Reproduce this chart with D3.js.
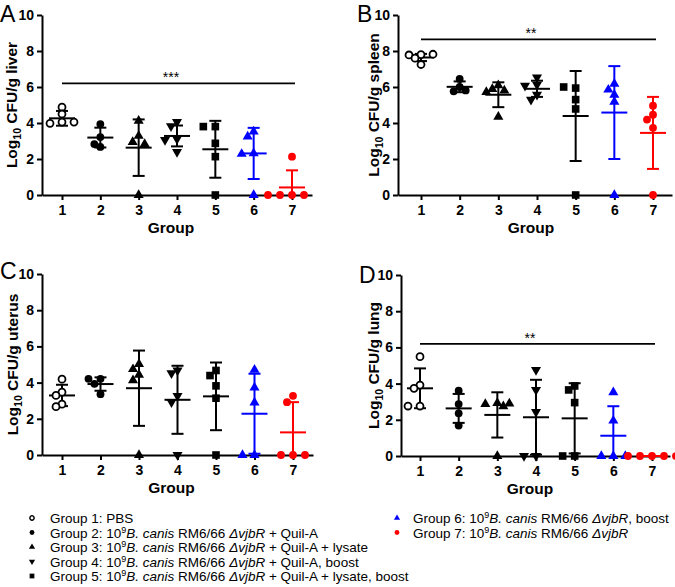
<!DOCTYPE html>
<html><head><meta charset="utf-8">
<script src="https://cdn.jsdelivr.net/npm/d3@7"></script>
<style>
body{margin:0;background:#fff}
svg{display:block}
text{font-family:"Liberation Sans",Arial,sans-serif}
</style>
</head><body>
<svg id="chart" width="675" height="587"></svg>
<script>
// ---------- DATA ----------
const groups = [1, 2, 3, 4, 5, 6, 7];
const yTicks = [0, 2, 4, 6, 8, 10];

const liverPoints = [
  [4.88, 4.5, 4.05, 3.98, 4.05],
  [3.94, 3.22, 2.67, 2.83],
  [4.12, 3.28, 2.94, 2.83, 0],
  [4.06, 3.83, 3.11, 3.06, 2.39],
  [3.8, 3.8, 2.87, 2.13, 0],
  [3.52, 3.24, 2.31, 2.28, 0],
  [2.13, 0, 0, 0, 0]
];
const liverMean = [4.26, 3.19, 2.63, 3.28, 2.54, 2.31, 0.42];
const liverSD = [0.41, 0.55, 1.57, 0.58, 1.58, 1.42, 0.95];

const spleenPoints = [
  [7.8, 7.78, 7.82, 7.6, 7.25],
  [6.45, 6.0, 5.76, 5.81],
  [6.09, 5.89, 5.8, 5.72, 4.34],
  [6.53, 6.13, 6.07, 5.57, 5.3],
  [5.94, 6.0, 5.3, 4.78, 0],
  [6.18, 5.85, 5.57, 5.17, 0],
  [4.96, 4.46, 4.19, 3.73, 0]
];
const spleenMean = [7.64, 6.01, 5.57, 5.9, 4.39, 4.58, 3.45];
const spleenSD = [0.2, 0.3, 0.69, 0.45, 2.5, 2.58, 2.0];

const uterusPoints = [
  [4.19, 3.47, 3.29, 2.81, 2.67],
  [4.21, 4.21, 3.93, 3.36],
  [5.02, 4.74, 4.43, 4.12, 0],
  [4.67, 4.52, 3.27, 2.92, 0],
  [4.67, 4.39, 3.82, 3.14, 0],
  [4.71, 3.73, 2.9, 0, 0],
  [3.27, 2.92, 0, 0, 0]
];
const uterusMean = [3.29, 3.92, 3.69, 3.05, 3.24, 2.28, 1.25];
const uterusSD = [0.59, 0.37, 2.08, 1.88, 1.87, 2.21, 1.67];

const lungPoints = [
  [5.49, 3.92, 3.74, 2.76, 2.76],
  [3.61, 2.87, 2.36, 1.68],
  [2.93, 2.87, 2.9, 2.75, 0],
  [4.75, 3.65, 2.43, 0, 0],
  [3.87, 3.65, 2.95, 0, 0],
  [3.52, 1.95, 0, 0, 0],
  [0, 0, 0, 0, 0]
];
const lungMean = [3.74, 2.63, 2.27, 2.14, 2.08, 1.12, 0];
const lungSD = [1.1, 0.8, 1.25, 2.07, 1.94, 1.63, 0];

const sigValues = [6.2, 8.65, null, 6.19];
const sigLabels = ["***", "**", "", "**"];
const organs = ["liver", "spleen", "uterus", "lung"];
const panelLetters = ["A", "B", "C", "D"];

const legendPrefix = ["Group 1: ", "Group 2: ", "Group 3: ", "Group 4: ", "Group 5: ", "Group 6: ", "Group 7: "];
const legendSuffix = ["PBS", " + Quil-A", " + Quil-A + lysate", " + Quil-A, boost", " + Quil-A + lysate, boost", ", boost", ""];

// ---------- STYLE / LAYOUT ----------
const groupColor = ["#000", "#000", "#000", "#000", "#000", "#0000ff", "#ff0000"];
const groupShape = ["openCircle", "circle", "triUp", "triDown", "square", "triUp", "circle"];

const layout = [
  {left: 42, right: 312, g1: 62, g7: 292, top: 15, bottom: 195, ylabX: 17, letterX: 0, letterY: 22},
  {left: 398, right: 672, g1: 421, g7: 653, top: 15, bottom: 195, ylabX: 379, letterX: 357, letterY: 22},
  {left: 42, right: 313, g1: 62, g7: 293, top: 274, bottom: 455, ylabX: 18, letterX: 0, letterY: 279},
  {left: 401, right: 670, g1: 420, g7: 652, top: 275, bottom: 456, ylabX: 379, letterX: 359, letterY: 283}
];
const panelPoints = [liverPoints, spleenPoints, uterusPoints, lungPoints];
const panelMeans = [liverMean, spleenMean, uterusMean, lungMean];
const panelSDs = [liverSD, spleenSD, uterusSD, lungSD];

const svg = d3.select("#chart");

function drawMarker(g, shape, color, x, y, scale) {
  const s = scale || 1;
  let d;
  if (shape === "openCircle") d = d3.symbol(d3.symbolCircle, 38 * s * s)();
  else if (shape === "circle") d = d3.symbol(d3.symbolCircle, 48 * s * s)();
  else if (shape === "square") d = d3.symbol(d3.symbolSquare, 58 * s * s)();
  else d = d3.symbol(d3.symbolTriangle, 44 * s * s)();
  const p = g.append("path").attr("d", d)
    .attr("transform", `translate(${x},${y})` + (shape === "triDown" ? " rotate(180)" : ""));
  if (shape === "openCircle") {
    p.attr("fill", "#fff").attr("stroke", color).attr("stroke-width", 1.8 * Math.max(s, 0.8));
  } else {
    p.attr("fill", color);
  }
}

// simple beeswarm offsets in pixel space
function swarm(ys, step, minDist) {
  const placed = [];
  return ys.map(y => {
    const cands = [0];
    for (let k = 1; k < 10; k++) { cands.push(-k * step, k * step); }
    for (const dx of cands) {
      if (placed.every(p => Math.hypot(p.dx - dx, p.y - y) >= minDist)) {
        placed.push({dx, y});
        return dx;
      }
    }
    return 0;
  });
}

layout.forEach((L, pi) => {
  const g = svg.append("g");
  const x = d3.scaleLinear().domain([1, 7]).range([L.g1, L.g7]);
  const xa = d3.scaleLinear().domain([x.invert(L.left), x.invert(L.right)]).range([L.left, L.right]);
  const y = d3.scaleLinear().domain([0, 10]).range([L.bottom, L.top]);

  // axes
  const ax = g.append("g").attr("transform", `translate(0,${L.bottom})`)
    .call(d3.axisBottom(xa).tickValues(groups).tickSize(5).tickSizeOuter(0).tickPadding(5).tickFormat(d3.format("d")));
  const ay = g.append("g").attr("transform", `translate(${L.left},0)`)
    .call(d3.axisLeft(y).tickValues(yTicks).tickSize(5).tickSizeOuter(0).tickPadding(3));
  [ax, ay].forEach(a => {
    a.selectAll("path,line").attr("stroke", "#000").attr("stroke-width", 2);
    a.selectAll("text").attr("font-size", 14).attr("font-weight", "bold").attr("fill", "#000")
      .style("font-family", "'Liberation Sans',Arial,sans-serif");
  });

  // axis titles
  const cx = (L.g1 + L.g7) / 2 - 6;
  g.append("text").attr("x", cx).attr("y", L.bottom + 38).attr("text-anchor", "middle")
    .attr("font-size", 15.5).attr("font-weight", "bold").text("Group");
  const yl = g.append("text")
    .attr("transform", `translate(${L.ylabX},${(L.top + L.bottom) / 2}) rotate(-90)`)
    .attr("text-anchor", "middle").attr("font-size", 15.5).attr("font-weight", "bold");
  yl.append("tspan").text("Log");
  yl.append("tspan").attr("font-size", 10.5).attr("dy", 4).text("10");
  yl.append("tspan").attr("dy", -4).text(" CFU/g " + organs[pi]);

  // panel letter
  g.append("text").attr("x", L.letterX).attr("y", L.letterY).attr("font-size", 23)
    .text(panelLetters[pi]);

  // significance bar
  if (sigValues[pi] !== null) {
    const sy = y(sigValues[pi]);
    g.append("line").attr("x1", x(1)).attr("x2", x(7) + 3).attr("y1", sy).attr("y2", sy)
      .attr("stroke", "#000").attr("stroke-width", 1.8);
    g.append("text").attr("x", cx).attr("y", sy - 1).attr("text-anchor", "middle")
      .attr("font-size", 14).text(sigLabels[pi]);
  }

  // error bars and means
  groups.forEach((gr, i) => {
    const col = groupColor[i];
    const m = panelMeans[pi][i], sd = panelSDs[pi][i];
    const gx = x(gr);
    const lo = Math.max(0, m - sd), hi = m + sd;
    if (sd > 0) {
      g.append("line").attr("x1", gx).attr("x2", gx).attr("y1", y(lo)).attr("y2", y(hi))
        .attr("stroke", col).attr("stroke-width", 2);
      g.append("line").attr("x1", gx - 6).attr("x2", gx + 6).attr("y1", y(hi)).attr("y2", y(hi))
        .attr("stroke", col).attr("stroke-width", 2);
      if (m - sd > 0.05) {
        g.append("line").attr("x1", gx - 6).attr("x2", gx + 6).attr("y1", y(lo)).attr("y2", y(lo))
          .attr("stroke", col).attr("stroke-width", 2);
      }
    }
    g.append("line").attr("x1", gx - 13).attr("x2", gx + 13).attr("y1", y(m)).attr("y2", y(m))
      .attr("stroke", col).attr("stroke-width", 2);
  });

  // points
  groups.forEach((gr, i) => {
    const pts = panelPoints[pi][i];
    const ys = pts.map(v => y(v));
    const offs = swarm(ys, 6, 6.5);
    pts.forEach((v, k) => drawMarker(g, groupShape[i], groupColor[i], x(gr) + offs[k], ys[k]));
  });
});

// ---------- LEGEND ----------
const legRows = groups.map((gr, i) => i < 5
  ? {mx: 32, tx: 50, cy: 518 + i * 14.5}
  : {mx: 397, tx: 413, cy: 518 + (i - 5) * 14.5});

groups.forEach((gr, i) => {
  const r = legRows[i];
  const lg = svg.append("g");
  drawMarker(lg, groupShape[i], groupColor[i], r.mx, r.cy, 0.62);
  const t = lg.append("text").attr("x", r.tx).attr("y", r.cy + 5).attr("font-size", 13.5)
    .attr("fill", "#000");
  t.append("tspan").text(legendPrefix[i]);
  if (i === 0) {
    t.append("tspan").text(legendSuffix[i]);
  } else {
    t.append("tspan").text("10");
    t.append("tspan").attr("font-size", 9).attr("dy", -5).text("9");
    t.append("tspan").attr("dy", 5).attr("font-style", "italic").text("B. canis");
    t.append("tspan").text(" RM6/66 ");
    t.append("tspan").attr("font-style", "italic").text("\u0394vjbR");
    t.append("tspan").text(legendSuffix[i]);
  }
});
</script>
</body></html>
